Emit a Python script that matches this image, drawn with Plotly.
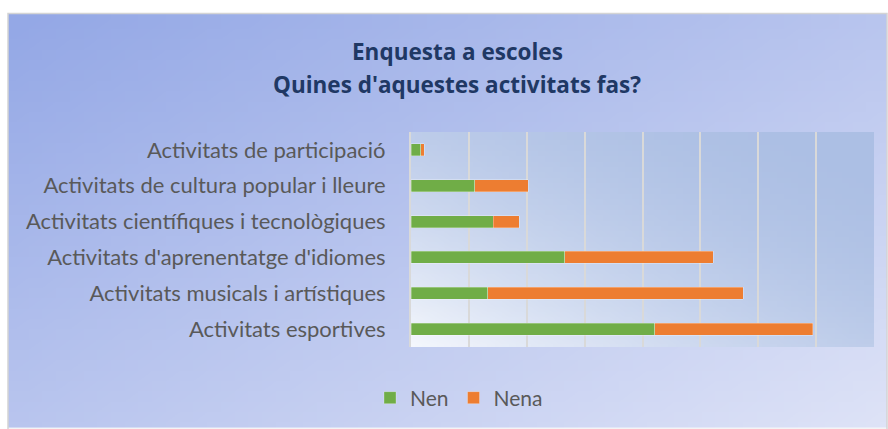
import base64, struct, zlib
import plotly.graph_objects as go

# ---- data ----
categories = [
    "Activitats de participació",
    "Activitats de cultura popular i lleure",
    "Activitats científiques i tecnològiques",
    "Activitats d'aprenentatge d'idiomes",
    "Activitats musicals i artístiques",
    "Activitats esportives",
]
nen = [1.7, 11.0, 14.2, 26.6, 13.3, 42.1]
nena = [0.6, 9.3, 4.5, 25.6, 44.1, 27.3]
series_names = ["Nen", "Nena"]
title_lines = ["Enquesta a escoles", "Quines d'aquestes activitats fas?"]

# ---- layout geometry ----
W, H = 888, 429
ML, MR, MT, MB = 411, 14, 132, 81
PW, PH = W - ML - MR, H - MT - MB


def px_x(x):
    return (x - ML) / PW


def px_y(y):
    return (H - MB - y) / PH


def png_uri(w, h, fn):
    raw = b""
    for j in range(h):
        row = b"\x00"
        for i in range(w):
            r, g, b = fn(i / (w - 1), j / (h - 1))
            row += bytes((int(r), int(g), int(b)))
        raw += row

    def chunk(t, d):
        c = struct.pack(">I", len(d)) + t + d
        return c + struct.pack(">I", zlib.crc32(t + d) & 0xFFFFFFFF)

    png = b"\x89PNG\r\n\x1a\n" + chunk(b"IHDR", struct.pack(">IIBBBBB", w, h, 8, 2, 0, 0, 0))
    png += chunk(b"IDAT", zlib.compress(raw, 9)) + chunk(b"IEND", b"")
    return "data:image/png;base64," + base64.b64encode(png).decode()


def lerp(a, b, t):
    return tuple(a[k] + (b[k] - a[k]) * t for k in range(3))


outer_tl, outer_br = (148, 168, 230), (222, 227, 247)
outer_img = png_uri(64, 40, lambda u, v: lerp(outer_tl, outer_br, (u + v) / 2))
inner_blue, inner_white = (172, 191, 228), (244, 247, 253)
inner_img = png_uri(64, 40, lambda u, v: lerp(inner_blue, inner_white, (((1 - u) + v) / 2) ** 2))

GREEN, ORANGE = "#70ad47", "#ed7d31"
FONT = "Lato"
TITLE_FONT = "Open Sans"

fig = go.Figure()
fig.add_trace(go.Bar(y=categories, x=nen, name=series_names[0], orientation="h",
                     marker=dict(color=GREEN, line=dict(color="rgba(255,255,255,0.35)", width=0.8))))
fig.add_trace(go.Bar(y=categories, x=nena, name=series_names[1], orientation="h",
                     marker=dict(color=ORANGE, line=dict(color="rgba(255,255,255,0.35)", width=0.8))))

ox0, oy0, ox1, oy1 = 8, 13, 887, 429
fig.add_layout_image(source=outer_img, xref="paper", yref="paper",
                     x=px_x(ox0), y=px_y(oy0), sizex=px_x(ox1) - px_x(ox0), sizey=px_y(oy0) - px_y(oy1),
                     xanchor="left", yanchor="top", sizing="stretch", layer="below")
fig.add_layout_image(source=inner_img, xref="paper", yref="paper",
                     x=0, y=1, sizex=1, sizey=1,
                     xanchor="left", yanchor="top", sizing="stretch", layer="below")
fig.add_shape(type="rect", xref="paper", yref="paper",
              x0=px_x(ox0), y0=px_y(oy1 + 2), x1=px_x(ox1), y1=px_y(oy0),
              line=dict(color="#d4d4d4", width=1.5), fillcolor="rgba(0,0,0,0)", layer="below")

for i, (line, ypix) in enumerate(zip(title_lines, [51, 84])):
    fig.add_annotation(text="<b>" + line + "</b>", xref="paper", yref="paper",
                       x=px_x(457), y=px_y(ypix), xanchor="center", yanchor="middle",
                       showarrow=False, font=dict(family=TITLE_FONT, size=22.5, color="#203864"))

fig.update_layout(
    width=W, height=H,
    margin=dict(l=ML, r=MR, t=MT, b=MB),
    paper_bgcolor="white",
    plot_bgcolor="rgba(0,0,0,0)",
    barmode="stack",
    bargap=0.667,
    showlegend=True,
    legend=dict(orientation="h", x=px_x(459), y=px_y(398), xanchor="center", yanchor="middle",
                font=dict(family=FONT, size=21, color="#595959"), bgcolor="rgba(0,0,0,0)",
                itemwidth=30, traceorder="normal"),
    font=dict(family=FONT, color="#595959"),
    xaxis=dict(range=[0, 80], dtick=10, showticklabels=False, showgrid=True,
               gridcolor="#d9d9d9", gridwidth=1.5, zeroline=False, showline=False, fixedrange=True),
    yaxis=dict(autorange="reversed", showgrid=False, showline=True, linecolor="#d9d9d9", linewidth=2,
               ticks="", ticklabelstandoff=19, tickfont=dict(family=FONT, size=22, color="#595959")),
)

fig.write_html("out.html", config={"displayModeBar": False},
               post_script="document.body.style.margin='0';")
